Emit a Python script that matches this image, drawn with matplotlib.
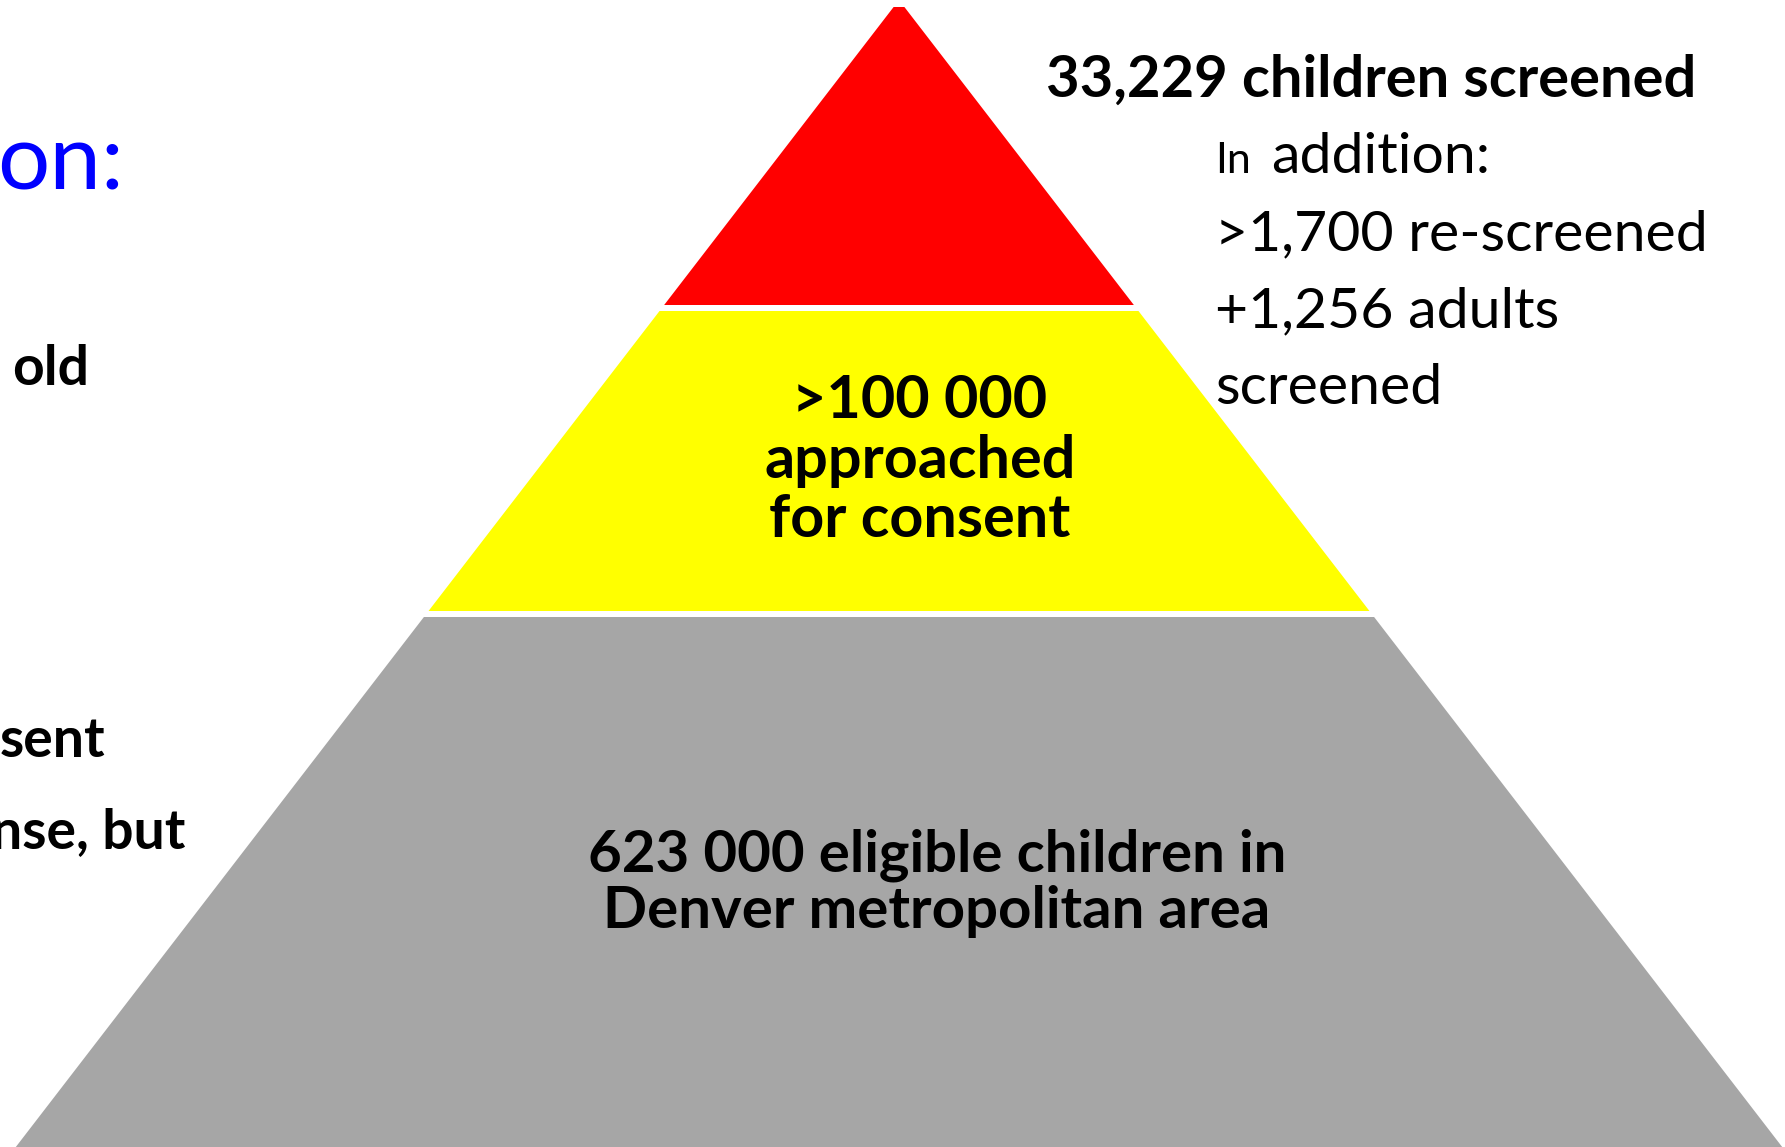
import matplotlib
matplotlib.use("Agg")
import matplotlib.pyplot as plt
from matplotlib.patches import Polygon

# pyramid tiers, top to bottom
tier_names = ["screened", "approached", "eligible"]
tier_counts = [33229, 100000, 623000]
tier_colors = ["#FF0000", "#FFFF00", "#A6A6A6"]

screened_label = f"{tier_counts[0]:,} children screened"
approached_lines = [f">{tier_counts[1]:,}".replace(",", " "), "approached", "for consent"]
eligible_lines = [f"{tier_counts[2]:,}".replace(",", " ") + " eligible children in",
                  "Denver metropolitan area"]
extra_lines = [">1,700 re-screened", "+1,256 adults", "screened"]

# bits of the slide text cut off on the left edge
left_title = "on:"
left_bullets = ["old", "sent", "nse, but"]

FONT = "Lato"
W, H = 1785, 1147

fig = plt.figure(figsize=(W / 100, H / 100), dpi=100)
ax = fig.add_axes([0, 0, 1, 1])
ax.set_xlim(0, W)
ax.set_ylim(H, 0)
ax.axis("off")
renderer = fig.canvas.get_renderer()


def fit_size(s, width, weight="normal"):
    # font size that makes s come out `width` pixels wide
    t = ax.text(0, 0, s, fontsize=10, fontweight=weight, family=FONT)
    w = t.get_window_extent(renderer).width
    t.remove()
    return 10 * width / w


# pyramid: one triangle cut into slices with thin white gaps
apex_x, slope = 899, 0.77
tier_edges = [(7, 305), (311, 611), (617, H + 5)]
for (top, bot), color in zip(tier_edges, tier_colors):
    pts = [(apex_x - slope * top, top), (apex_x + slope * top, top),
           (apex_x + slope * bot, bot), (apex_x - slope * bot, bot)]
    ax.add_patch(Polygon(pts, closed=True, facecolor=color, edgecolor="none"))

# right-hand annotation
fs = fit_size(screened_label, 655, "bold")
ax.text(1046, 97, screened_label, fontsize=fs, fontweight="bold", family=FONT,
        va="baseline", ha="left")

fs = fit_size(extra_lines[0], 493)
ax.text(1215, 173, "In", fontsize=fs * 0.75, family=FONT, va="baseline", ha="left")
ax.text(1271, 173, "addition:", fontsize=fs, family=FONT, va="baseline", ha="left")
for line, y in zip(extra_lines, [250, 327, 404]):
    ax.text(1215, y, line, fontsize=fs, family=FONT, va="baseline", ha="left")

# labels inside the tiers
fs = fit_size(approached_lines[1], 312, "bold")
for line, y in zip(approached_lines, [418, 478, 537]):
    ax.text(920, y, line, fontsize=fs, fontweight="bold", family=FONT,
            va="baseline", ha="center")

fs = fit_size(eligible_lines[0], 702, "bold")
for line, y in zip(eligible_lines, [872, 928]):
    ax.text(937, y, line, fontsize=fs, fontweight="bold", family=FONT,
            va="baseline", ha="center")

# left column
fs = fit_size(left_title, 128)
ax.text(124, 190, left_title, fontsize=fs, color="#0000FF", family=FONT,
        va="baseline", ha="right")

fs = fit_size(left_bullets[1], 106, "bold")
for line, x, y in zip(left_bullets, [89, 105, 185], [385, 757, 848]):
    ax.text(x, y, line, fontsize=fs, fontweight="bold", family=FONT,
            va="baseline", ha="right")

fig.savefig("out.png", dpi=100, facecolor="white")
